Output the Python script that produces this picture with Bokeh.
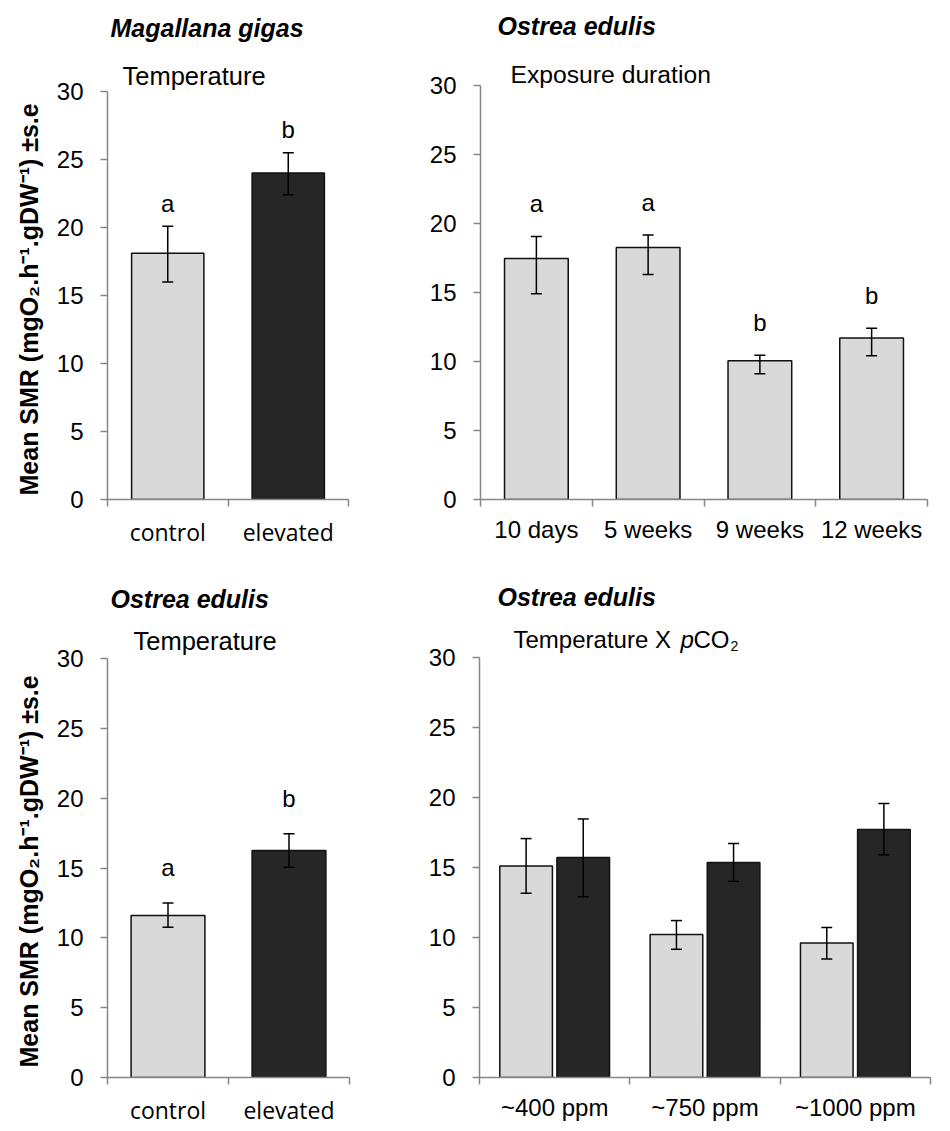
from bokeh.plotting import figure
from bokeh.models import ColumnDataSource, Range1d, FixedTicker, Whisker, TeeHead, Label, Title
from bokeh.layouts import column, row
from bokeh.embed import file_html
from bokeh.resources import INLINE
from bokeh.core.properties import value

# ---------------- data ----------------
mg_temp_cats = ["control", "elevated"]
mg_temp_mean = [18.1, 24.0]
mg_temp_lo = [16.0, 22.4]
mg_temp_hi = [20.1, 25.5]
mg_temp_letters = ["a", "b"]

oe_dur_cats = ["10 days", "5 weeks", "9 weeks", "12 weeks"]
oe_dur_mean = [17.45, 18.25, 10.05, 11.7]
oe_dur_lo = [14.9, 16.3, 9.1, 10.4]
oe_dur_hi = [19.05, 19.15, 10.45, 12.4]
oe_dur_letters = ["a", "a", "b", "b"]

oe_temp_cats = ["control", "elevated"]
oe_temp_mean = [11.6, 16.25]
oe_temp_lo = [10.75, 15.05]
oe_temp_hi = [12.5, 17.45]
oe_temp_letters = ["a", "b"]

co2_cats = ["~400 ppm", "~750 ppm", "~1000 ppm"]
co2_ctrl_mean = [15.1, 10.2, 9.6]
co2_ctrl_lo = [13.15, 9.15, 8.45]
co2_ctrl_hi = [17.05, 11.2, 10.7]
co2_elev_mean = [15.7, 15.35, 17.7]
co2_elev_lo = [12.9, 14.0, 15.9]
co2_elev_hi = [18.45, 16.7, 19.55]

y_ticks = [0, 5, 10, 15, 20, 25, 30]
Y_MAX = 30

# ---------------- style ----------------
AXIS = "#868686"
TXT = "#000000"
LIGHT = "#d9d9d9"
DARK = "#262626"
EDGE = "#111111"
ARIAL = "Liberation Sans"
YLABEL = "Mean SMR (mgO\u2082.h\u207b\u00b9.gDW\u207b\u00b9) \u00b1s.e"


def base_fig(cats, w, h, bl, br, bt, bb, axis_px, extra_px, ylabel, ylabel_offset, cat_font, cat_size):
    """axis_px: pixel length of the 0..30 axis; extra_px: free frame space above it (for titles)."""
    n = len(cats)
    y_end = Y_MAX * (axis_px + extra_px) / axis_px
    p = figure(width=w, height=h, x_range=Range1d(-0.5, n - 0.5), y_range=Range1d(0, y_end),
               output_backend="svg", toolbar_location=None, tools="",
               min_border_left=bl, min_border_right=br, min_border_top=bt, min_border_bottom=bb)
    p.outline_line_color = None
    p.grid.visible = False
    p.background_fill_color = "white"
    p.border_fill_color = "white"

    xa = p.xaxis[0]
    xa.ticker = FixedTicker(ticks=list(range(n)), minor_ticks=[i - 0.5 for i in range(n + 1)])
    xa.major_label_overrides = {i: c for i, c in enumerate(cats)}
    xa.major_tick_line_color = None
    xa.major_tick_out = 7
    xa.major_tick_in = 0
    xa.minor_tick_line_color = AXIS
    xa.minor_tick_line_width = 1.5
    xa.minor_tick_out = 7
    xa.minor_tick_in = 0
    xa.axis_line_color = AXIS
    xa.axis_line_width = 1.5
    xa.major_label_text_font = cat_font
    xa.major_label_text_font_size = cat_size
    xa.major_label_text_color = TXT
    xa.major_label_standoff = 9

    ya = p.yaxis[0]
    ya.bounds = (0, Y_MAX)
    ya.ticker = FixedTicker(ticks=y_ticks)
    ya.major_tick_line_color = AXIS
    ya.major_tick_line_width = 1.5
    ya.major_tick_out = 7
    ya.major_tick_in = 0
    ya.minor_tick_line_color = None
    ya.axis_line_color = AXIS
    ya.axis_line_width = 1.5
    ya.major_label_text_font = ARIAL
    ya.major_label_text_font_size = "24px"
    ya.major_label_text_color = TXT
    ya.major_label_standoff = 17
    if ylabel:
        # vertical label placed beside the 0..30 part of the axis
        t = Title(text=ylabel, align="left", offset=ylabel_offset, standoff=21,
                  text_font=ARIAL, text_font_size="25px", text_font_style="bold",
                  text_color=TXT)
        p.add_layout(t, "left")
    return p


def add_bars(p, xs, mean, lo, hi, colors, width):
    src = ColumnDataSource(dict(x=xs, top=mean, lo=lo, hi=hi, color=colors))
    p.vbar(x="x", top="top", width=width, bottom=0, source=src,
           fill_color="color", line_color=EDGE, line_width=1.5)
    w = Whisker(base="x", upper="hi", lower="lo", source=src, level="annotation",
                line_color="#000000", line_width=1.5,
                upper_head=TeeHead(size=11, line_color="#000000", line_width=1.5),
                lower_head=TeeHead(size=11, line_color="#000000", line_width=1.5))
    p.add_layout(w)
    return src


def add_letters(p, xs, hi, letters, dy_px, axis_px):
    # letters sit dy_px pixels above the upper error-bar cap
    shift = dy_px * Y_MAX / axis_px
    src = ColumnDataSource(dict(x=xs, y=[h + shift for h in hi], t=letters))
    p.text(x="x", y="y", text="t", source=src, text_align="center", text_baseline="alphabetic",
           text_font=value(ARIAL), text_font_size="24px", text_color=TXT)


def add_label(p, x, y, text, size="24px", style="normal"):
    p.add_layout(Label(x=x, y=y, x_units="screen", y_units="screen", text=text,
                       text_font=ARIAL, text_font_size=size, text_font_style=style,
                       text_color=TXT, text_baseline="alphabetic", text_align="left"))


# ---------------- panel 1: Magallana gigas / Temperature ----------------
A1 = 408
p1 = base_fig(mg_temp_cats, 380, 560, 107, 32, 4, 61, A1, 87, YLABEL, 4, "Open Sans", "23px")
x1 = list(range(len(mg_temp_cats)))
add_bars(p1, x1, mg_temp_mean, mg_temp_lo, mg_temp_hi, [LIGHT, DARK], 0.6)
add_letters(p1, x1, mg_temp_hi, mg_temp_letters, 23, A1)
add_label(p1, 3, A1 + 64, "Magallana gigas", "25px", "bold italic")
add_label(p1, 15, A1 + 16, "Temperature", "25.5px")

# ---------------- panel 2: Ostrea edulis / Exposure duration ----------------
A2 = 416
p2 = base_fig(oe_dur_cats, 570, 560, 100, 23, 4, 59, A2, 81, None, 0, ARIAL, "24px")
x2 = list(range(len(oe_dur_cats)))
add_bars(p2, x2, oe_dur_mean, oe_dur_lo, oe_dur_hi, [LIGHT] * len(oe_dur_cats), 0.57)
add_letters(p2, x2, oe_dur_hi, oe_dur_letters, 33, A2)
add_label(p2, 17, A2 + 58, "Ostrea edulis", "25px", "bold italic")
add_label(p2, 30, A2 + 9, "Exposure duration", "24.7px")

# ---------------- panel 3: Ostrea edulis / Temperature ----------------
A3 = 419
p3 = base_fig(oe_temp_cats, 380, 570, 107, 31, 4, 53, A3, 94, YLABEL, 10, "Open Sans", "23px")
x3 = list(range(len(oe_temp_cats)))
add_bars(p3, x3, oe_temp_mean, oe_temp_lo, oe_temp_hi, [LIGHT, DARK], 0.61)
add_letters(p3, x3, oe_temp_hi, oe_temp_letters, 35, A3)
add_label(p3, 3, A3 + 60, "Ostrea edulis", "25px", "bold italic")
add_label(p3, 26, A3 + 18, "Temperature", "25.5px")

# ---------------- panel 4: Ostrea edulis / Temperature x pCO2 ----------------
A4 = 422
p4 = base_fig(co2_cats, 570, 570, 99, 20, 4, 51, A4, 93, None, 0, ARIAL, "24px")
x4 = list(range(len(co2_cats)))
dodge = 0.19
bw = 0.35
add_bars(p4, [x - dodge for x in x4], co2_ctrl_mean, co2_ctrl_lo, co2_ctrl_hi, [LIGHT] * 3, bw)
add_bars(p4, [x + dodge for x in x4], co2_elev_mean, co2_elev_lo, co2_elev_hi, [DARK] * 3, bw)
add_label(p4, 18, A4 + 59, "Ostrea edulis", "25px", "bold italic")
add_label(p4, 34, A4 + 16, "Temperature X ")
add_label(p4, 34 + 167, A4 + 16, "p", "24px", "italic")
add_label(p4, 34 + 180, A4 + 16, "CO")
add_label(p4, 34 + 217, A4 + 10, "2", "14px")

layout = column(row(p1, p2), row(p3, p4))

open("out.html", "w").write(file_html(layout, INLINE))
